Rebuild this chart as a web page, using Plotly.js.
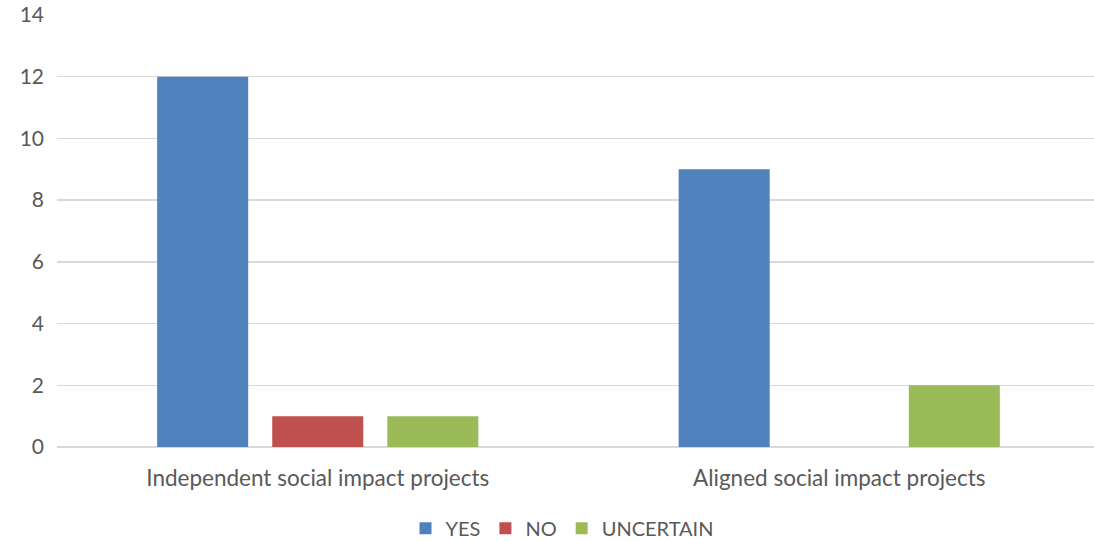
<!DOCTYPE html>
<html>
<head>
<meta charset="utf-8">
<script src="https://cdn.plot.ly/plotly-3.0.1.min.js"></script>
<style>
  html, body { margin: 0; padding: 0; background: #fff; overflow: hidden; }
  #chart { width: 1094px; height: 541px; }
</style>
</head>
<body>
<div id="chart"></div>
<script>
// Project categories and survey answers
const categories = ['Independent social impact projects', 'Aligned social impact projects'];
const yesValues = [12, 9];
const noValues = [1, 0];
const uncertainValues = [1, 2];
const yTicks = [0, 2, 4, 6, 8, 10, 12, 14];

const textColor = '#595959';
const fontFamily = 'Lato, "Open Sans", sans-serif';

const traces = [
  { name: 'YES', y: yesValues, color: '#4F81BD' },
  { name: 'NO', y: noValues, color: '#C0504D' },
  { name: 'UNCERTAIN', y: uncertainValues, color: '#9BBB59' }
].map(s => ({
  type: 'bar',
  name: s.name,
  x: categories,
  y: s.y,
  marker: { color: s.color, line: { width: 0 } },
  hoverinfo: 'x+y+name'
}));

const layout = {
  width: 1094,
  height: 541,
  margin: { l: 57, r: 0, t: 15, b: 94, autoexpand: false },
  paper_bgcolor: '#ffffff',
  plot_bgcolor: '#ffffff',
  barmode: 'group',
  bargap: 0.338,
  bargroupgap: 0.209,
  font: { family: fontFamily, color: textColor, size: 20 },
  xaxis: {
    type: 'category',
    range: [-0.5, 1.4885],
    showgrid: false,
    showline: false,
    zeroline: false,
    ticks: '',
    ticklabelstandoff: 15,
    automargin: false,
    tickfont: { family: fontFamily, color: textColor, size: 22.5 }
  },
  yaxis: {
    range: [0, 14],
    tickvals: yTicks,
    showgrid: true,
    gridcolor: '#d9d9d9',
    gridwidth: 1.5,
    zeroline: true,
    zerolinecolor: '#d9d9d9',
    zerolinewidth: 1.5,
    showline: false,
    ticks: '',
    ticklabelstandoff: 12,
    automargin: false,
    tickfont: { family: fontFamily, color: textColor, size: 21 }
  },
  showlegend: true,
  legend: {
    orientation: 'h',
    x: 0.487,
    xanchor: 'center',
    y: -0.143,
    yanchor: 'top',
    font: { family: fontFamily, color: textColor, size: 20 },
    itemwidth: 30,
    tracegroupgap: 0
  }
};

Plotly.newPlot('chart', traces, layout, { displayModeBar: false, staticPlot: true });
</script>
</body>
</html>
